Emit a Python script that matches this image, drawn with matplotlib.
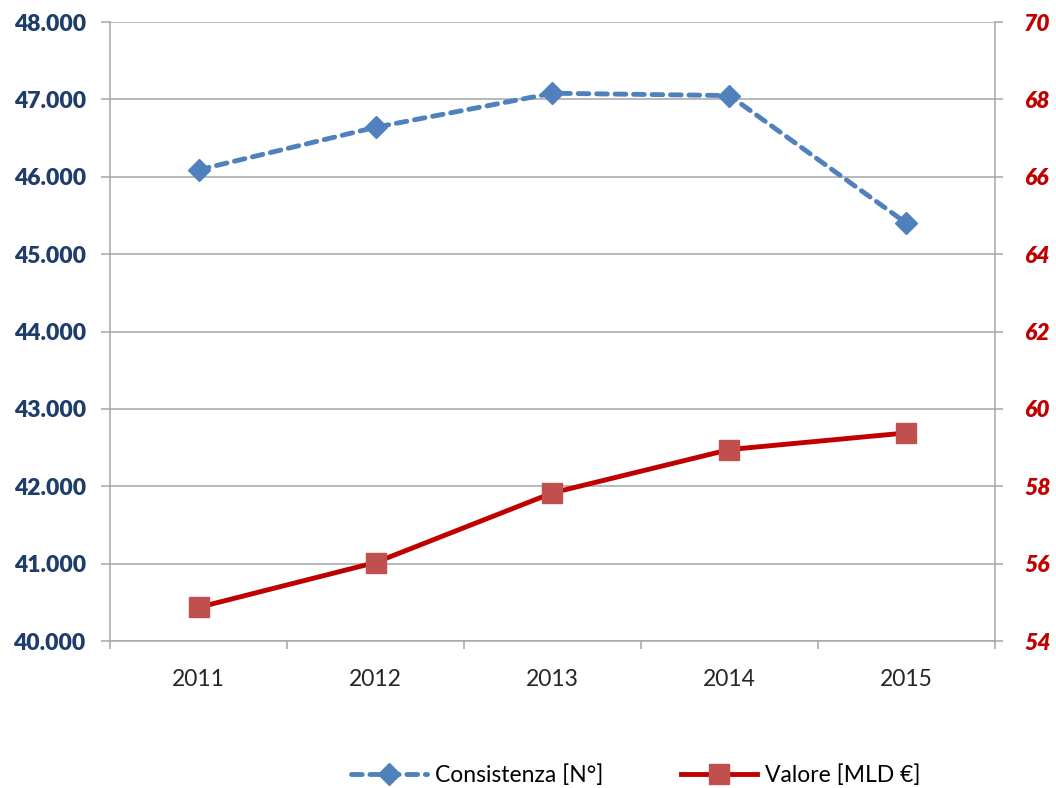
import matplotlib
matplotlib.use('Agg')
import matplotlib.pyplot as plt
from matplotlib.ticker import FixedLocator

plt.rcParams['font.family'] = ['Lato', 'DejaVu Sans']

years = ['2011', '2012', '2013', '2014', '2015']
consistenza = [46090, 46640, 47080, 47050, 45400]
valore = [54.87, 56.03, 57.83, 58.95, 59.38]
left_ticks = list(range(40000, 48001, 1000))
right_ticks = list(range(54, 71, 2))

grid_color = '#a6a6a6'
blue = '#4f81bd'
red_line = '#c00000'
red_marker = '#c0504d'

fig = plt.figure(figsize=(10.56, 7.88), dpi=100)
ax1 = fig.add_axes([0.1042, 0.1865, 0.838, 0.7855])
ax2 = ax1.twinx()

x = list(range(len(years)))
l1, = ax1.plot(x, consistenza, color=blue, linewidth=3.5, linestyle=(0, (2.2, 1.6)),
               dash_capstyle='round', marker='D', markersize=11, markerfacecolor=blue,
               markeredgecolor=blue, label='Consistenza [N°]')
l2, = ax2.plot(x, valore, color=red_line, linewidth=3.5, marker='s', markersize=14,
               markerfacecolor=red_marker, markeredgecolor=red_marker, label='Valore [MLD €]')

ax1.set_xlim(-0.5, 4.5)
ax1.set_ylim(40000, 48000)
ax2.set_ylim(54, 70)
ax1.set_yticks(left_ticks)
ax1.set_yticklabels(['{:,.0f}'.format(v).replace(',', '.') for v in left_ticks],
                    fontweight='heavy', fontsize=16.5, color='#1f3d6b')
ax2.set_yticks(right_ticks)
ax2.set_yticklabels([str(v) for v in right_ticks], fontweight='heavy', fontstyle='italic',
                    fontsize=16.5, color='#c00000')

ax1.set_axisbelow(True)
ax1.grid(axis='y', color=grid_color, linewidth=1.1)

ax1.set_xticks(x)
ax1.set_xticklabels(years)
ax1.xaxis.set_minor_locator(FixedLocator([i - 0.5 for i in range(len(years) + 1)]))
ax1.tick_params(axis='x', which='major', length=0, pad=20, labelsize=16.5, labelcolor='#262626')
ax1.tick_params(axis='x', which='minor', length=6, width=1.1, color=grid_color, direction='out')
ax1.tick_params(axis='y', length=6.5, width=1.1, color=grid_color, pad=11)
ax2.tick_params(axis='y', length=6, width=1.1, color=grid_color, pad=15)

for ax in (ax1, ax2):
    ax.spines['top'].set_visible(False)
    for s in ('left', 'right', 'bottom'):
        ax.spines[s].set_color(grid_color)
        ax.spines[s].set_linewidth(1.1)
ax1.spines['right'].set_visible(False)
ax2.spines['left'].set_visible(False)
ax2.spines['bottom'].set_visible(False)

fig.legend(handles=[l1, l2], loc='center', bbox_to_anchor=(0.602, 0.0165), ncol=2,
           frameon=False, fontsize=16.5, handlelength=3.3, handletextpad=0.35,
           columnspacing=3.4, numpoints=1)

fig.savefig('out.png', dpi=100)
